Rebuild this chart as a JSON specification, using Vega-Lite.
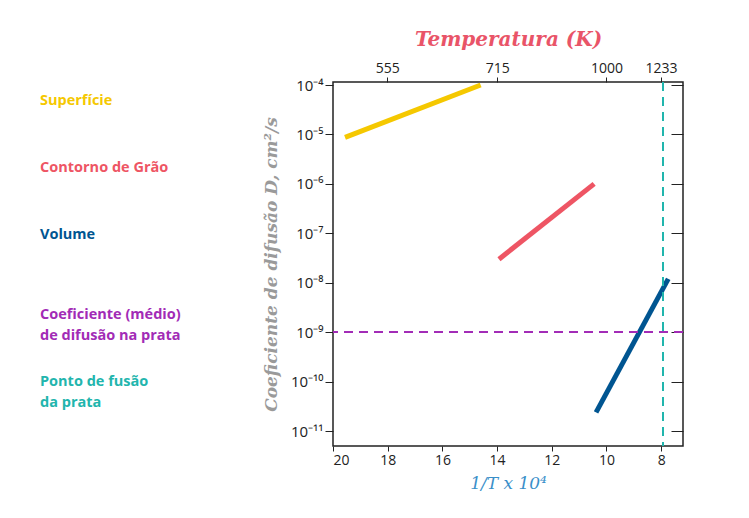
{
  "$schema": "https://vega.github.io/schema/vega-lite/v6.json",
  "background": "white",
  "padding": {"left": 40, "top": 28, "right": 60, "bottom": 20},
  "config": {"font": "Open Sans", "view": {"stroke": null}, "concat": {"spacing": 46}},
  "hconcat": [
    {
      "width": 175,
      "height": 364,
      "data": {"values": [
        {"label": "Superfície", "order": 1, "col": "a"},
        {"label": "Contorno de Grão", "order": 2, "col": "b"},
        {"label": "Volume", "order": 3, "col": "c"},
        {"label": "Coeficiente (médio)\nde difusão na prata", "order": 4.2, "col": "d"},
        {"label": "Ponto de fusão\nda prata", "order": 5.2, "col": "e"}
      ]},
      "mark": {"type": "text", "align": "left", "baseline": "middle", "fontSize": 14.5, "fontWeight": "bold", "lineBreak": "\n", "lineHeight": 21},
      "encoding": {
        "x": {"value": 0},
        "y": {"field": "order", "type": "quantitative", "scale": {"domain": [0.72, 6.15], "reverse": true}, "axis": null},
        "text": {"field": "label"},
        "color": {"field": "col", "type": "nominal", "legend": null,
          "scale": {"domain": ["a", "b", "c", "d", "e"], "range": ["#f5c800", "#ee5564", "#005591", "#a22bb6", "#22b5ad"]}}
      }
    },
    {
      "width": 350,
      "height": 364,
      "view": {"stroke": "#222", "strokeWidth": 1.5},
      "data": {"values": [
        {"series": "Superfície", "inv": 19.56, "D": 8.7e-6},
        {"series": "Superfície", "inv": 14.6, "D": 1e-4},
        {"series": "Contorno", "inv": 13.93, "D": 3e-8},
        {"series": "Contorno", "inv": 10.45, "D": 1e-6},
        {"series": "Volume", "inv": 10.38, "D": 2.4e-11},
        {"series": "Volume", "inv": 7.74, "D": 1.2e-8}
      ]},
      "resolve": {"axis": {"x": "independent", "y": "independent"}},
      "layer": [
        {
          "mark": {"type": "line", "strokeWidth": 5},
          "encoding": {
            "x": {"field": "inv", "type": "quantitative",
              "scale": {"domain": [20, 7.2], "nice": false, "zero": false},
              "axis": {"values": [20, 18, 16, 14, 12, 10, 8], "grid": false, "labelFontSize": 14, "labelColor": "#222", "tickColor": "#222", "domain": false,
                "title": "1/T x 10⁴", "titleColor": "#3a8fc9", "titleFontSize": 17, "titleFontStyle": "italic", "titleFont": "DejaVu Serif", "titleFontWeight": "normal", "titlePadding": 8}},
            "y": {"field": "D", "type": "quantitative",
              "scale": {"type": "log", "domain": [5e-12, 1.15e-4], "nice": false},
              "axis": {"values": [1e-11, 1e-10, 1e-9, 1e-8, 1e-7, 1e-6, 1e-5, 1e-4], "grid": false, "domain": false,
                "labelExpr": "'10' + ['⁻¹¹','⁻¹⁰','⁻⁹','⁻⁸','⁻⁷','⁻⁶','⁻⁵','⁻⁴'][round(log(datum.value)/LN10)+11]",
                "labelFontSize": 15, "labelColor": "#222", "tickColor": "#222", "tickSize": 8,
                "title": "Coeficiente de difusão D, cm²/s", "titleColor": "#9a9a9a", "titleFontSize": 17, "titleFontStyle": "italic", "titleFontWeight": "bold", "titleFont": "DejaVu Serif", "titlePadding": 10}},
            "color": {"field": "series", "type": "nominal", "legend": null,
              "scale": {"domain": ["Superfície", "Contorno", "Volume"], "range": ["#f5c800", "#ee5564", "#005591"]}},
            "detail": {"field": "series"}
          }
        },
        {
          "mark": {"type": "rule", "color": "#a22bb6", "strokeWidth": 1.5, "strokeDash": [9, 6]},
          "encoding": {"y": {"datum": 1e-9, "type": "quantitative", "axis": null}}
        },
        {
          "mark": {"type": "rule", "color": "#22b5ad", "strokeWidth": 1.5, "strokeDash": [9, 6]},
          "encoding": {"x": {"datum": 7.93, "type": "quantitative", "axis": null}}
        },
        {
          "mark": {"type": "point", "opacity": 0},
          "encoding": {
            "x": {"field": "inv", "type": "quantitative",
              "axis": {"orient": "top", "values": [18.02, 13.99, 10, 8.0], "grid": false, "domain": false,
                "labelExpr": "datum.value > 17 ? '555' : datum.value > 13 ? '715' : datum.value > 9 ? '1000' : '1233'",
                "labelFontSize": 14, "labelColor": "#222", "tickColor": "#222",
                "title": "Temperatura (K)", "titleColor": "#e95468", "titleFontSize": 20, "titleFontStyle": "italic", "titleFontWeight": "bold", "titleFont": "DejaVu Serif", "titlePadding": 12}},
            "y": {"field": "D", "type": "quantitative",
              "axis": {"orient": "right", "values": [1e-11, 1e-10, 1e-9, 1e-8, 1e-7, 1e-6, 1e-5, 1e-4], "grid": false, "domain": false, "labels": false, "tickSize": -12, "tickColor": "#222", "title": null}}
          }
        }
      ]
    }
  ]
}
